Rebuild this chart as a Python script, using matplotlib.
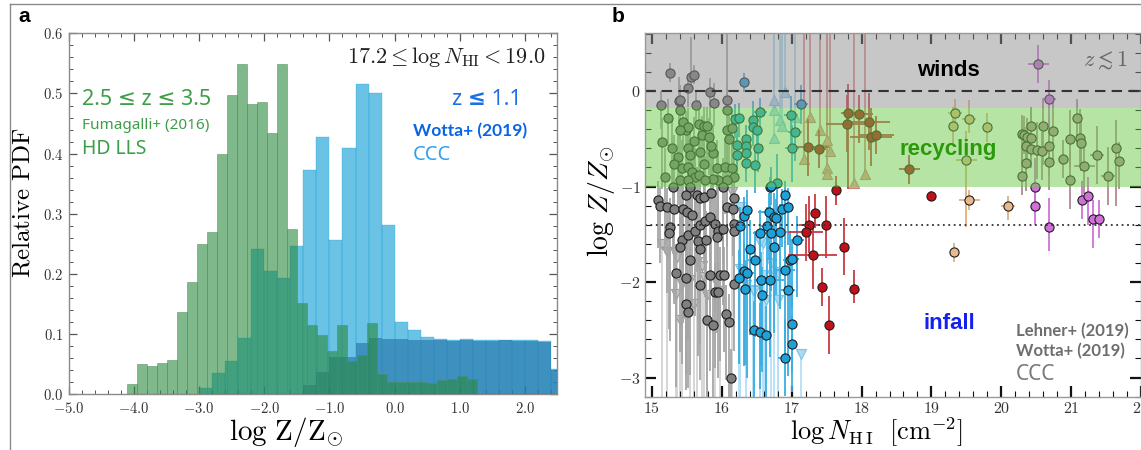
import numpy as np
import matplotlib
matplotlib.use("Agg")
import matplotlib.pyplot as plt
from matplotlib.lines import Line2D
from matplotlib.ticker import MultipleLocator, FuncFormatter

plt.rcParams["mathtext.fontset"] = "cm"
plt.rcParams["font.family"] = ["DejaVu Sans"]

# ---------------- panel a: metallicity PDFs ----------------
# HD-LLS (Fumagalli+ 2016), 2.5 <= z <= 3.5
hdlls_edges = np.linspace(-4.11, 1.256, 36)
hdlls_pdf = [0.017, 0.050, 0.047, 0.052, 0.057, 0.136, 0.186, 0.250, 0.270,
             0.400, 0.497, 0.549, 0.483, 0.485, 0.435, 0.549, 0.274, 0.152,
             0.116, 0.099, 0.072, 0.116, 0.056, 0.066, 0.118, 0.033, 0.021,
             0.020, 0.020, 0.020, 0.019, 0.023, 0.025, 0.030, 0.026]

# CCC (Wotta+ 2019), z <= 1.1
ccc_edges = np.arange(-3.0, 2.61, 0.2)
ccc_pdf = [0.010, 0.035, 0.055, 0.093, 0.241, 0.205, 0.194, 0.247, 0.373,
           0.428, 0.256, 0.410, 0.515, 0.500, 0.282, 0.120, 0.107, 0.096,
           0.092, 0.091, 0.092, 0.091, 0.091, 0.090, 0.091, 0.090, 0.088,
           0.042]

# CCC, flat-prior component
ccc_flat_edges = np.arange(-1.4, 2.61, 0.2)
ccc_flat_pdf = [0.015, 0.037, 0.062, 0.062, 0.085, 0.093, 0.092, 0.092,
                0.091, 0.090, 0.090, 0.089, 0.090, 0.089, 0.089, 0.090,
                0.088, 0.089, 0.087, 0.040]

pdf_xticks = [-5.0, -4.0, -3.0, -2.0, -1.0, 0.0, 1.0, 2.0]
pdf_yticks = [0.0, 0.1, 0.2, 0.3, 0.4, 0.5, 0.6]

# ---------------- panel b: Z vs N_HI ----------------
# columns: logNHI, logZ, err_low, err_high
lehner_det = np.array([
    (15.26, 0.19, 0.10, 0.10), (15.56, 0.15, 0.15, 0.42), (15.60, 0.17, 0.10, 0.10),
    (15.51, 0.03, 0.20, 0.15), (15.83, -0.01, 0.30, 0.15), (15.13, -0.15, 0.25, 0.15),
    (15.39, -0.10, 0.30, 0.25), (15.40, -0.09, 0.15, 0.15), (15.63, -0.15, 0.20, 0.15),
    (15.89, -0.12, 0.25, 0.20), (16.07, -0.09, 0.90, 0.70),
    (15.14, -0.53, 0.5, 0.25), (15.29, -0.60, 0.4, 0.3), (15.40, -0.20, 0.3, 0.2),
    (15.45, -0.32, 0.3, 0.2), (15.48, -0.41, 0.4, 0.2), (15.51, -0.38, 0.3, 0.2),
    (15.40, -0.41, 0.35, 0.2), (15.37, -0.69, 0.5, 0.3), (15.52, -0.60, 0.4, 0.25),
    (15.55, -0.67, 0.6, 0.3), (15.31, -0.76, 0.6, 0.3), (15.43, -0.81, 0.7, 0.3),
    (15.51, -0.79, 0.5, 0.3), (15.57, -0.85, 0.6, 0.3), (15.62, -0.90, 0.7, 0.3),
    (15.19, -0.90, 0.8, 0.3), (15.40, -0.93, 0.6, 0.25), (15.51, -0.93, 0.5, 0.25),
    (15.67, -0.88, 0.5, 0.3), (15.67, -0.34, 0.3, 0.25), (15.74, -0.37, 0.3, 0.2),
    (15.79, -0.37, 0.35, 0.2), (15.71, -0.46, 0.3, 0.2), (15.81, -0.48, 0.4, 0.2),
    (15.69, -0.64, 0.4, 0.3), (15.74, -0.76, 0.5, 0.3), (15.88, -0.65, 0.4, 0.3),
    (15.93, -0.81, 0.6, 0.3), (15.95, -0.93, 0.6, 0.3), (16.05, -0.79, 0.5, 0.3),
    (16.07, -0.41, 0.4, 0.3), (16.10, -0.50, 0.4, 0.25), (16.14, -0.39, 0.3, 0.2),
    (16.07, -0.20, 0.3, 0.25), (16.14, -0.81, 0.5, 0.3), (16.17, -0.90, 0.6, 0.3),
    (16.07, -0.93, 0.7, 0.25), (15.88, -0.92, 0.6, 0.25), (15.76, -0.93, 0.5, 0.25),
    (15.23, -0.28, 0.3, 0.2), (15.60, -0.52, 0.35, 0.25), (15.84, -0.58, 0.4, 0.2),
    (15.08, -1.14, 0.5, 0.2), (15.12, -1.20, 0.6, 0.2), (15.21, -1.21, 0.9, 0.2),
    (15.30, -1.00, 0.7, 0.2), (15.32, -1.23, 1.0, 0.25), (15.45, -1.23, 1.2, 0.25),
    (15.50, -1.27, 0.9, 0.25), (15.49, -1.09, 1.1, 0.2), (15.64, -1.09, 0.8, 0.3),
    (15.69, -1.12, 1.3, 0.3), (15.74, -1.11, 0.7, 0.3), (15.85, -1.07, 1.0, 0.3),
    (16.02, -1.00, 0.8, 0.3), (15.55, -1.00, 1.0, 0.3), (15.26, -1.42, 1.2, 0.3),
    (15.25, -1.49, 1.0, 0.3), (15.43, -1.56, 1.3, 0.3), (15.52, -1.51, 1.1, 0.3),
    (15.62, -1.46, 0.9, 0.3), (15.69, -1.40, 1.0, 0.3), (15.76, -1.36, 0.8, 0.3),
    (15.83, -1.32, 1.2, 0.3), (15.90, -1.39, 0.9, 0.3), (15.95, -1.46, 1.0, 0.3),
    (16.02, -1.44, 0.8, 0.3), (16.17, -1.39, 0.6, 0.3), (16.17, -1.46, 0.9, 0.3),
    (16.07, -1.21, 0.7, 0.3), (16.16, -1.23, 0.5, 0.3), (16.18, -1.12, 0.6, 0.3),
    (15.57, -1.30, 1.0, 0.3), (15.66, -1.57, 1.2, 0.3), (15.69, -1.65, 1.0, 0.3),
    (15.78, -1.56, 0.9, 0.3), (15.93, -1.53, 1.0, 0.3), (15.55, -1.77, 1.2, 0.3),
    (15.48, -1.96, 1.0, 0.3), (15.35, -1.90, 1.2, 0.3), (15.69, -2.03, 1.0, 0.3),
    (15.83, -1.93, 1.0, 0.3), (15.98, -1.93, 0.9, 0.3), (16.03, -1.93, 0.8, 0.3),
    (15.90, -2.10, 0.8, 0.3), (15.95, -2.10, 0.9, 0.3), (16.17, -2.02, 0.7, 0.3),
    (15.48, -2.23, 0.9, 0.3), (15.52, -2.31, 0.8, 0.3), (15.79, -2.40, 0.8, 0.3),
    (15.87, -2.45, 0.8, 0.3), (16.06, -2.33, 0.7, 0.3), (16.10, -2.42, 0.8, 0.3),
    (16.13, -3.00, 0.4, 0.3), (15.40, -1.63, 1.1, 0.3),
])

# upper limits: logNHI, logZ
lehner_ul = np.array([
    (15.14, -1.60), (15.36, -1.74), (15.43, -2.02), (15.40, -2.40), (15.60, -2.23),
    (15.64, -1.79), (15.74, -1.95), (15.79, -2.14), (15.71, -1.83), (16.14, -1.06),
    (15.98, -2.09), (15.55, -1.98), (15.21, -1.69), (15.34, -2.12), (15.90, -1.98),
])

# columns: logNHI, logZ, err_low, err_high, err_NHI
wotta_det = np.array([
    (16.26, -1.41, 0.5, 0.2, 0.05), (16.32, -1.31, 0.6, 0.2, 0.0), (16.36, -1.24, 0.5, 0.2, 0.0),
    (16.55, -1.49, 0.6, 0.25, 0.1), (16.67, -1.27, 0.5, 0.2, 0.15), (16.74, -1.32, 0.6, 0.25, 0.1),
    (16.77, -1.33, 0.8, 0.2, 0.0), (16.86, -1.23, 0.4, 0.2, 0.0), (16.90, -1.09, 0.5, 0.15, 0.05),
    (16.95, -1.21, 0.4, 0.2, 0.0), (16.69, -1.00, 0.3, 0.1, 0.0), (16.64, -1.41, 0.7, 0.2, 0.1),
    (16.71, -1.49, 0.6, 0.2, 0.2), (16.83, -1.48, 0.8, 0.3, 0.1), (16.75, -1.63, 0.9, 0.3, 0.0),
    (17.07, -1.56, 0.6, 0.25, 0.1), (16.97, -1.77, 0.7, 0.3, 0.1), (17.00, -1.76, 0.5, 0.2, 0.1),
    (16.40, -1.65, 0.9, 0.3, 0.0), (16.48, -1.77, 0.8, 0.3, 0.1), (16.31, -1.88, 1.0, 0.3, 0.0),
    (16.36, -1.90, 1.1, 0.3, 0.1), (16.24, -1.96, 0.9, 0.3, 0.0), (16.33, -2.07, 0.8, 0.3, 0.0),
    (16.56, -1.98, 0.9, 0.3, 0.1), (16.69, -1.98, 0.8, 0.4, 0.2), (16.58, -2.14, 0.8, 0.3, 0.0),
    (16.90, -1.87, 0.9, 0.3, 0.15), (16.95, -2.08, 0.9, 0.3, 0.1), (16.46, -2.50, 0.7, 0.3, 0.0),
    (16.55, -2.52, 0.6, 0.3, 0.0), (16.63, -2.55, 0.7, 0.3, 0.0), (17.00, -2.44, 0.5, 0.3, 0.0),
    (17.01, -2.65, 0.5, 0.3, 0.0), (16.90, -2.79, 0.4, 0.4, 0.1),
    (16.19, -0.29, 0.2, 0.15, 0.0), (16.25, -0.28, 0.2, 0.15, 0.05), (16.55, -0.22, 0.2, 0.15, 0.1),
    (16.45, -0.30, 0.2, 0.2, 0.0), (16.44, -0.38, 0.2, 0.15, 0.0), (16.50, -0.41, 0.25, 0.2, 0.0),
    (16.21, -0.56, 0.2, 0.15, 0.0), (16.34, -0.50, 0.2, 0.15, 0.0), (16.34, -0.57, 0.25, 0.2, 0.0),
    (16.35, -0.65, 0.2, 0.15, 0.0), (16.21, -0.67, 0.25, 0.2, 0.0), (16.34, -0.75, 0.2, 0.2, 0.0),
    (16.48, -0.77, 0.3, 0.2, 0.0), (16.52, -0.60, 0.25, 0.2, 0.0), (16.99, -0.25, 0.3, 0.2, 0.1),
    (17.05, -0.43, 0.3, 0.2, 0.1), (17.00, -0.60, 0.35, 0.25, 0.1), (16.79, -0.96, 0.3, 0.3, 0.0),
    (16.70, -0.99, 0.2, 0.2, 0.0), (17.14, -0.14, 0.2, 0.2, 0.1), (16.31, 0.09, 0.1, 0.1, 0.0),
])

wotta_ul = np.array([
    (16.26, -1.21), (16.25, -1.40), (16.59, -1.59), (16.34, -2.03), (16.45, -2.08),
    (16.63, -2.19), (16.81, -2.19), (16.70, -1.80), (16.81, -1.91), (16.60, -1.93),
    (17.14, -2.75), (16.26, -1.86), (16.55, -1.58), (16.74, -1.89), (16.46, -2.09),
])

# lower limits
wotta_ll = np.array([
    (16.74, -0.09), (16.91, -0.01), (16.74, -0.20), (16.83, -0.30), (16.86, -0.37),
    (16.74, -0.49), (17.05, -0.27),
])

pll_ll = np.array([
    (17.26, -0.27), (17.40, -0.41), (17.50, -0.51), (17.55, -0.63), (17.50, -0.81),
    (17.50, -0.87), (17.18, -0.71), (18.05, -0.87), (17.89, -0.96),
])

pll_det = np.array([
    (17.24, -0.59, 0.3, 0.3, 0.3), (17.39, -0.61, 0.2, 0.2, 0.1), (17.80, -0.23, 0.8, 0.3, 0.1),
    (17.79, -0.34, 0.3, 0.3, 0.3), (17.97, -0.24, 0.3, 0.2, 0.2), (18.11, -0.32, 0.3, 0.3, 0.3),
    (18.14, -0.48, 0.3, 0.3, 0.3), (18.21, -0.46, 0.2, 0.2, 0.25), (18.68, -0.82, 0.15, 0.15, 0.15),
    (17.64, -1.04, 0.15, 0.15, 0.0), (17.34, -1.28, 0.15, 0.2, 0.0), (17.25, -1.40, 0.3, 0.3, 0.15),
    (17.20, -1.48, 0.3, 0.3, 0.25), (17.49, -1.40, 0.35, 0.3, 0.0), (17.30, -1.72, 0.35, 0.35, 0.35),
    (17.75, -1.63, 0.3, 0.3, 0.0), (17.44, -2.05, 0.2, 0.2, 0.05), (17.89, -2.07, 0.15, 0.2, 0.05),
    (17.54, -2.45, 0.3, 0.3, 0.0), (18.99, -1.10, 0.05, 0.05, 0.0),
])

slls_det = np.array([
    (19.54, -1.14, 0.1, 0.1, 0.15), (20.10, -1.20, 0.15, 0.1, 0.1), (19.32, -1.69, 0.1, 0.1, 0.0),
    (19.34, -0.23, 0.15, 0.15, 0.1), (19.31, -0.37, 0.2, 0.2, 0.0), (19.54, -0.29, 0.15, 0.2, 0.1),
    (19.79, -0.38, 0.15, 0.15, 0.05), (19.50, -0.72, 0.7, 0.3, 0.15),
])

dla_det = np.array([
    (20.53, 0.28, 0.2, 0.2, 0.15), (20.69, -0.08, 0.3, 0.2, 0.1), (20.48, -1.00, 0.2, 0.3, 0.0),
    (20.48, -1.20, 0.2, 0.2, 0.0), (20.69, -1.42, 0.25, 0.3, 0.0), (21.16, -1.14, 0.2, 0.2, 0.0),
    (21.24, -1.10, 0.3, 0.2, 0.0), (21.31, -1.34, 0.3, 0.2, 0.0), (21.40, -1.34, 0.2, 0.2, 0.0),
])

dla_gal = np.array([
    (20.29, -0.45, 0.3, 0.2, 0.0), (20.32, -0.46, 0.2, 0.2, 0.0), (20.37, -0.48, 0.3, 0.2, 0.0),
    (20.43, -0.49, 0.2, 0.3, 0.0), (20.42, -0.37, 0.3, 0.2, 0.0), (20.60, -0.37, 0.4, 0.3, 0.0),
    (20.74, -0.42, 0.3, 0.3, 0.0), (20.36, -0.58, 0.3, 0.2, 0.0), (20.43, -0.61, 0.2, 0.2, 0.0),
    (20.51, -0.62, 0.3, 0.3, 0.0), (20.59, -0.63, 0.3, 0.2, 0.0), (20.68, -0.58, 0.3, 0.3, 0.0),
    (20.69, -0.74, 0.3, 0.3, 0.0), (20.35, -0.75, 0.3, 0.3, 0.0), (20.29, -0.89, 0.2, 0.3, 0.0),
    (20.89, -0.71, 0.2, 0.2, 0.0), (20.98, -0.93, 0.3, 0.3, 0.0), (20.99, -0.50, 0.3, 0.3, 0.0),
    (21.09, -0.28, 0.2, 0.2, 0.0), (21.13, -0.49, 0.3, 0.3, 0.0), (21.14, -0.54, 0.3, 0.3, 0.0),
    (21.19, -0.78, 0.3, 0.2, 0.15), (21.37, -0.67, 0.3, 0.3, 0.1), (21.53, -0.89, 0.3, 0.3, 0.1),
    (21.64, -0.60, 0.6, 0.3, 0.0), (21.69, -0.73, 0.3, 0.2, 0.0),
])

nhi_ticks = [15, 16, 17, 18, 19, 20, 21, 22]
z_ticks = [-3, -2, -1, 0]

# ---------------- figure ----------------
W, H = 1141, 450
fig = plt.figure(figsize=(W / 100, H / 100), dpi=100)
axa = fig.add_axes([68.6 / W, 1 - 394.3 / H, (557 - 68.6) / W, (394.3 - 33.3) / H])
axb = fig.add_axes([645 / W, 1 - 396.7 / H, (1141 - 645) / W, (396.7 - 33.3) / H])

# panel frame lines
fig.add_artist(Line2D([9.6 / W, 1], [1 - 4.3 / H] * 2, color="#8a8a8a", lw=1.0))
fig.add_artist(Line2D([9.6 / W] * 2, [0, 1 - 4.3 / H], color="#8a8a8a", lw=1.0))

sans = ["Noto Sans", "DejaVu Sans"]
bold_sans = ["Liberation Sans", "DejaVu Sans"]
lato = ["Lato", "DejaVu Sans"]

# ---- panel a ----
axa.bar(ccc_edges[:-1], ccc_pdf, width=np.diff(ccc_edges), align="edge",
        color="#079BD4", alpha=0.6, edgecolor="#079BD4", lw=0.3, zorder=2)
axa.bar(ccc_flat_edges[:-1], ccc_flat_pdf, width=np.diff(ccc_flat_edges), align="edge",
        color="#2171A4", alpha=0.6, lw=0, zorder=3)
axa.bar(hdlls_edges[:-1], hdlls_pdf, width=np.diff(hdlls_edges), align="edge",
        color="#2A893C", alpha=0.6, edgecolor="#4f8f5c", lw=0.6, zorder=4)

axa.set_xlim(-5.0, 2.49)
axa.set_ylim(0, 0.6)
axa.set_xticks(pdf_xticks)
axa.set_yticks(pdf_yticks)
axa.xaxis.set_minor_locator(MultipleLocator(0.2))
axa.yaxis.set_minor_locator(MultipleLocator(0.02))
axa.xaxis.set_major_formatter(FuncFormatter(lambda v, p: r"$%.1f$" % v))
axa.yaxis.set_major_formatter(FuncFormatter(lambda v, p: r"$%.1f$" % v))
axa.tick_params(which="both", direction="in", top=True, right=True,
                color="#555555", labelsize=10.5, labelcolor="#333333")
axa.tick_params(which="major", length=6, width=0.9)
axa.tick_params(which="minor", length=3, width=0.7)
axa.tick_params(axis="x", which="major", pad=5)
axa.tick_params(axis="y", which="major", pad=4)
for s in axa.spines.values():
    s.set_color("#8a8a8a")
    s.set_linewidth(1.0)

axa.text(2.32, 0.561, r"$17.2 \leq \log N_{\rm HI} < 19.0$", fontsize=16,
         ha="right", va="center", color="#222222")
green_txt = "#3c9f47"
axa.text(-4.79, 0.49, "2.5 ≤ z ≤ 3.5", fontsize=15.5, color=green_txt,
         family=sans, ha="left", va="center")
axa.text(-4.79, 0.446, "Fumagalli+ (2016)", fontsize=11, color=green_txt,
         family=sans, ha="left", va="center")
axa.text(-4.79, 0.407, "HD LLS", fontsize=14, color=green_txt,
         family=sans, ha="left", va="center")
axa.text(1.955, 0.49, "z ≤ 1.1", fontsize=15.5, color="#1e6ee6",
         family=sans, weight="semibold", ha="right", va="center")
axa.text(0.274, 0.437, "Wotta+ (2019)", fontsize=12.5, color="#0a64e6",
         family=lato, weight="bold", ha="left", va="center")
axa.text(0.274, 0.398, "CCC", fontsize=14.5, color="#32a0f0",
         family=sans, ha="left", va="center")

fig.text(23 / W, 1 - 203 / H, r"$\mathrm{Relative\ PDF}$", fontsize=18,
         rotation=90, ha="center", va="center")
fig.text(286 / W, 1 - 432 / H, r"$\log\,\mathrm{Z/Z}_{\odot}$", fontsize=21,
         ha="center", va="center")

# ---- panel b ----
def detections(ax, d, face, ecol, z=2, ms=6.6):
    xerr = d[:, 4] if d.shape[1] > 4 else None
    ax.errorbar(d[:, 0], d[:, 1], yerr=[d[:, 2], d[:, 3]], xerr=xerr, fmt="o",
                ms=ms, mfc=face, mec="#1e1e1e", mew=0.8, ecolor=ecol,
                elinewidth=1.3, capsize=0, zorder=z)


def limits(ax, d, marker, face, edge, lcol, y_end, z=1.6):
    ax.vlines(d[:, 0], d[:, 1], y_end, colors=lcol, lw=1.3, zorder=z - 0.1)
    ax.scatter(d[:, 0], d[:, 1], marker=marker, s=52, c=face, edgecolors=edge,
               linewidths=0.8, zorder=z)


limits(axb, lehner_ul, "v", "#c4c4c4", "#9a9a9a", "#d3d3d3", -3.4)
limits(axb, wotta_ul, "v", "#a9daf2", "#7dc3e6", "#b3e0f7", -3.4)
limits(axb, wotta_ll, "^", "#a9daf2", "#7dc3e6", "#a9dcf5", 0.8)
limits(axb, pll_ll, "^", "#f0a09a", "#d08080", "#e08a8a", 0.8)
detections(axb, lehner_det, "#7f7f7f", "#a6a6a6")
detections(axb, wotta_det, "#1da1db", "#3aaee2")
detections(axb, pll_det, "#c0101a", "#c83a40")
detections(axb, slls_det, "#e8b890", "#e0b080")
detections(axb, dla_gal, "#b8909a", "#b08a90")
detections(axb, dla_det, "#d070d8", "#d070d8")

# metallicity regimes
axb.axhspan(-0.18, 0.8, color="#909090", alpha=0.5, lw=0, zorder=3)
axb.axhspan(-1.0, -0.18, color="#6ccb4b", alpha=0.5, lw=0, zorder=3)
axb.axhline(0.0, color="#333333", lw=1.5, ls=(0, (5, 3)), zorder=4)
axb.axhline(-1.4, color="#333333", lw=1.3, ls=(0, (1, 2)), zorder=4)

axb.set_xlim(14.9, 21.99)
axb.set_ylim(-3.2, 0.605)
axb.set_xticks(nhi_ticks)
axb.set_yticks(z_ticks)
axb.xaxis.set_minor_locator(MultipleLocator(0.2))
axb.yaxis.set_minor_locator(MultipleLocator(0.2))
axb.xaxis.set_major_formatter(FuncFormatter(lambda v, p: r"$%d$" % v))
axb.yaxis.set_major_formatter(FuncFormatter(lambda v, p: r"$%d$" % v))
axb.tick_params(which="both", direction="in", top=True, right=True,
                color="#111111", labelsize=11.5, labelcolor="#333333")
axb.tick_params(which="major", length=8, width=1.6, pad=3)
axb.tick_params(which="minor", length=4, width=0.8)
for s in axb.spines.values():
    s.set_color("#999999")
    s.set_linewidth(1.0)
    s.set_zorder(6)

axb.text(19.25, 0.22, "winds", fontsize=16, weight="bold", family=bold_sans,
         color="black", ha="center", va="center", zorder=6)
axb.text(19.24, -0.61, "recycling", fontsize=16, weight="bold", family=bold_sans,
         color="#2a9a0a", ha="center", va="center", zorder=6)
axb.text(19.25, -2.43, "infall", fontsize=16, weight="bold", family=bold_sans,
         color="#1420f0", ha="center", va="center", zorder=6)
axb.text(21.49, 0.32, r"$z \lesssim 1$", fontsize=16, color="#666666",
         ha="center", va="center", zorder=6)
axb.text(20.21, -2.51, "Lehner+ (2019)", fontsize=12, weight="bold",
         family=lato, color="#6e6e6e", ha="left", va="center", zorder=6)
axb.text(20.21, -2.72, "Wotta+ (2019)", fontsize=12, weight="bold",
         family=lato, color="#6e6e6e", ha="left", va="center", zorder=6)
axb.text(20.21, -2.97, "CCC", fontsize=15, family=sans, color="#7a7a7a",
         ha="left", va="center", zorder=6)

fig.text(601 / W, 1 - 201 / H, r"$\log\,Z/Z_{\odot}$", fontsize=20,
         rotation=90, ha="center", va="center")
fig.text(876 / W, 1 - 432 / H, r"$\log N_{\rm H\,I}\ \ [\mathrm{cm}^{-2}]$",
         fontsize=19, ha="center", va="center")

# panel letters
fig.text(24 / W, 1 - 16 / H, "a", fontsize=15, weight="bold", family=bold_sans,
         ha="center", va="center")
fig.text(618 / W, 1 - 17 / H, "b", fontsize=15, weight="bold", family=bold_sans,
         ha="center", va="center")

fig.savefig("out.png", dpi=100)
